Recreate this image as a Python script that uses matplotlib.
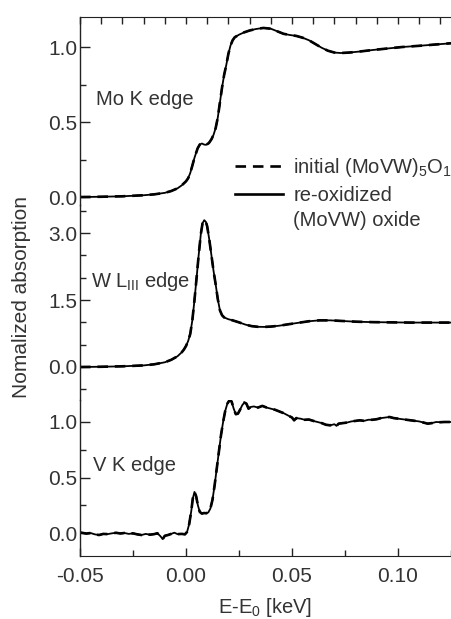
import matplotlib
matplotlib.use("Agg")
import matplotlib.pyplot as plt
from matplotlib.ticker import MultipleLocator, FormatStrFormatter
from matplotlib.lines import Line2D

plt.rcParams["font.family"] = ["Liberation Sans", "DejaVu Sans"]
plt.rcParams["mathtext.fontset"] = "custom"
plt.rcParams["mathtext.rm"] = "Liberation Sans"
plt.rcParams["mathtext.it"] = "Liberation Sans:italic"
plt.rcParams["axes.unicode_minus"] = False

# Mo K edge (E - E0 in keV, normalized absorption)
mo_e = [-0.050, -0.040, -0.030, -0.020, -0.015, -0.010, -0.007, -0.004, -0.002, 0.000,
        0.001, 0.002, 0.003, 0.004, 0.0055, 0.0065, 0.0075, 0.0085, 0.0095, 0.0108,
        0.012, 0.013, 0.014, 0.015, 0.016, 0.017, 0.018, 0.019, 0.020, 0.021,
        0.022, 0.023, 0.025, 0.0275, 0.030, 0.033, 0.0365, 0.040, 0.043, 0.046,
        0.049, 0.052, 0.055, 0.058, 0.061, 0.064, 0.067, 0.070, 0.073, 0.077,
        0.082, 0.088, 0.095, 0.102, 0.110, 0.118, 0.125]
mo_mu = [0.000, 0.002, 0.005, 0.012, 0.018, 0.028, 0.040, 0.058, 0.078, 0.105,
         0.125, 0.160, 0.210, 0.262, 0.325, 0.350, 0.357, 0.350, 0.348, 0.360,
         0.385, 0.415, 0.460, 0.530, 0.630, 0.730, 0.815, 0.880, 0.955, 1.010,
         1.045, 1.065, 1.082, 1.098, 1.110, 1.120, 1.127, 1.122, 1.105, 1.088,
         1.080, 1.074, 1.062, 1.045, 1.020, 0.995, 0.975, 0.963, 0.960, 0.963,
         0.970, 0.980, 0.990, 1.000, 1.008, 1.017, 1.025]

# W LIII edge
w_e = [-0.050, -0.040, -0.030, -0.020, -0.015, -0.010, -0.007, -0.004, -0.002, -0.001,
       0.000, 0.001, 0.002, 0.003, 0.004, 0.005, 0.006, 0.007, 0.0078, 0.0086,
       0.0094, 0.010, 0.011, 0.012, 0.013, 0.014, 0.015, 0.016, 0.017, 0.018,
       0.020, 0.022, 0.025, 0.028, 0.031, 0.034, 0.037, 0.040, 0.044, 0.048,
       0.053, 0.058, 0.063, 0.068, 0.074, 0.080, 0.088, 0.097, 0.106, 0.115, 0.125]
w_mu = [0.000, 0.005, 0.015, 0.035, 0.060, 0.105, 0.160, 0.240, 0.330, 0.390,
        0.470, 0.580, 0.740, 1.050, 1.500, 2.000, 2.520, 2.980, 3.220, 3.290,
        3.250, 3.150, 2.850, 2.500, 2.150, 1.850, 1.520, 1.270, 1.160, 1.110,
        1.070, 1.045, 1.000, 0.950, 0.915, 0.900, 0.898, 0.905, 0.925, 0.955,
        0.990, 1.025, 1.045, 1.045, 1.030, 1.015, 1.005, 1.000, 0.995, 0.995, 0.995]

# V K edge
v_e = [-0.050, -0.047, -0.045, -0.043, -0.041, -0.039, -0.037, -0.035, -0.033, -0.031,
       -0.029, -0.027, -0.025, -0.023, -0.021, -0.019, -0.017, -0.015, -0.0135, -0.012,
       -0.011, -0.010, -0.0085, -0.007, -0.0055, -0.004, -0.002, -0.0005, 0.0005, 0.0015,
       0.0025, 0.0032, 0.0040, 0.0048, 0.0056, 0.0065, 0.0075, 0.0085, 0.0095, 0.0105,
       0.0115, 0.0125, 0.0135, 0.0145, 0.0155, 0.0165, 0.0175, 0.0185, 0.0195, 0.0205,
       0.0215, 0.0225, 0.0235, 0.0245, 0.0255, 0.0265, 0.0275, 0.0285, 0.0295, 0.0305,
       0.032, 0.034, 0.036, 0.038, 0.040, 0.042, 0.044, 0.046, 0.048, 0.050,
       0.051, 0.052, 0.054, 0.056, 0.058, 0.060, 0.062, 0.064, 0.066, 0.068,
       0.070, 0.071, 0.072, 0.074, 0.076, 0.078, 0.080, 0.082, 0.084, 0.086,
       0.088, 0.090, 0.092, 0.094, 0.096, 0.098, 0.100, 0.102, 0.104, 0.106,
       0.108, 0.110, 0.112, 0.114, 0.116, 0.118, 0.120, 0.122, 0.125]
v_mu = [0.005, -0.005, 0.000, -0.012, -0.018, -0.008, -0.010, -0.003, 0.002, -0.004,
        0.000, -0.008, -0.003, -0.012, -0.018, -0.008, -0.015, -0.010, -0.002, -0.030,
        -0.055, -0.025, -0.018, -0.008, 0.003, -0.010, -0.008, -0.012, 0.010, 0.080,
        0.200, 0.310, 0.370, 0.330, 0.250, 0.190, 0.175, 0.180, 0.178, 0.185,
        0.220, 0.300, 0.430, 0.580, 0.730, 0.880, 1.000, 1.100, 1.165, 1.195,
        1.185, 1.120, 1.070, 1.075, 1.110, 1.150, 1.175, 1.165, 1.120, 1.135,
        1.140, 1.130, 1.145, 1.130, 1.120, 1.110, 1.095, 1.080, 1.060, 1.040,
        1.015, 1.035, 1.030, 1.020, 1.022, 1.010, 1.000, 0.990, 0.975, 0.970,
        0.980, 0.965, 0.985, 0.990, 0.995, 1.005, 1.010, 1.015, 1.010, 1.020,
        1.020, 1.025, 1.035, 1.040, 1.045, 1.035, 1.030, 1.025, 1.020, 1.015,
        1.010, 1.005, 0.995, 0.985, 0.990, 1.000, 0.998, 1.000, 1.000]

ink = "#222222"
txt = "#333333"
fs = 14.5      # annotation / legend text
fs_tick = 15

fig = plt.figure(figsize=(4.51, 6.19), dpi=100)
left, width = 80 / 451, 371 / 451
ax_mo = fig.add_axes([left, 1 - 205 / 619, width, 188 / 619])
ax_w = fig.add_axes([left, 1 - 400 / 619, width, 195 / 619])
ax_v = fig.add_axes([left, 1 - 556 / 619, width, 156 / 619])

panels = [
    (ax_mo, mo_e, mo_mu, (-0.053, 1.2), 0.5, 0.25),
    (ax_w, w_e, w_mu, (-0.74, 3.63), 1.5, 0.5),
    (ax_v, v_e, v_mu, (-0.207, 1.198), 0.5, 0.25),
]

for ax, e, mu, ylim, major, minor in panels:
    ax.patch.set_alpha(0)
    # dashed = initial, solid = re-oxidized (curves coincide)
    ax.plot(e, mu, color="black", lw=1.9, ls=(0, (4, 2.6)))
    ax.plot(e, mu, color="black", lw=1.3)
    ax.set_xlim(-0.05, 0.125)
    ax.set_ylim(*ylim)
    for s in ["top", "right", "bottom"]:
        ax.spines[s].set_visible(False)
    ax.spines["left"].set_color(ink)
    ax.spines["left"].set_linewidth(1.0)
    ax.yaxis.set_major_locator(MultipleLocator(major))
    ax.yaxis.set_minor_locator(MultipleLocator(minor))
    ax.yaxis.set_major_formatter(FormatStrFormatter("%.1f"))
    ax.tick_params(axis="y", which="major", direction="in", length=7, width=1.0,
                   color=ink, labelsize=fs_tick, labelcolor=txt, pad=2)
    ax.tick_params(axis="y", which="minor", direction="in", length=4, width=1.0, color=ink)
    ax.tick_params(axis="x", which="both", bottom=False, labelbottom=False)

# top frame of Mo panel with small ticks every 0.01 keV
ax_mo.spines["top"].set_visible(True)
ax_mo.spines["top"].set_color(ink)
ax_mo.xaxis.set_major_locator(MultipleLocator(0.01))
ax_mo.tick_params(axis="x", which="major", top=True, bottom=False, labeltop=False,
                  direction="in", length=5, width=1.0, color=ink)

# bottom axis of V panel
ax_v.spines["bottom"].set_visible(True)
ax_v.spines["bottom"].set_color(ink)
ax_v.xaxis.set_major_locator(MultipleLocator(0.05))
ax_v.xaxis.set_minor_locator(MultipleLocator(0.025))
ax_v.xaxis.set_major_formatter(FormatStrFormatter("%.2f"))
ax_v.tick_params(axis="x", which="major", bottom=True, labelbottom=True, direction="in",
                 length=6, width=1.0, color=ink, labelsize=fs_tick, labelcolor=txt, pad=8)
ax_v.tick_params(axis="x", which="minor", bottom=True, direction="in", length=4,
                 width=1.0, color=ink)
ax_v.set_xlabel("E-E$_0$ [keV]", fontsize=fs, color=txt, labelpad=7)

ax_mo.text(-0.0425, 0.647, "Mo K edge", fontsize=fs, color=txt, va="center")
ax_w.text(-0.0447, 1.92, "W L$_{\\mathrm{III}}$ edge", fontsize=fs, color=txt, va="center")
ax_v.text(-0.0437, 0.61, "V K edge", fontsize=fs, color=txt, va="center")

fig.text(22 / 451, 1 - 297 / 619, "Nomalized absorption", rotation=90,
         ha="center", va="center", fontsize=15, color=txt)

handles = [Line2D([], [], color="black", lw=1.9, ls=(0, (4, 2.6))),
           Line2D([], [], color="black", lw=1.9),
           Line2D([], [], color="none")]
labels = ["initial (MoVW)$_5$O$_{14}$", "re-oxidized", "(MoVW) oxide"]
leg = ax_mo.legend(handles, labels, loc="upper left",
                   bbox_to_anchor=(235 / 451, 1 - 156 / 619),
                   bbox_transform=fig.transFigure, frameon=False, fontsize=fs,
                   handlelength=2.4, handletextpad=0.5, labelspacing=0.33,
                   borderpad=0, borderaxespad=0)
for t in leg.get_texts():
    t.set_color(txt)
leg.set_clip_on(False)

fig.savefig("out.png", dpi=100)
